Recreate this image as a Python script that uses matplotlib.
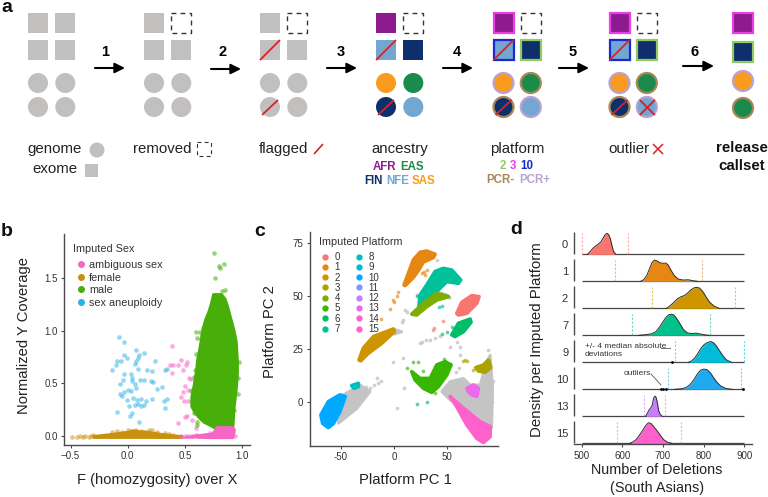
import matplotlib
matplotlib.use("Agg")
import matplotlib.pyplot as plt
from matplotlib.patches import Rectangle, Circle, FancyArrowPatch
from matplotlib.lines import Line2D
from matplotlib.transforms import blended_transform_factory as blend

plt.rcParams['font.family'] = ['Liberation Sans', 'DejaVu Sans']
W, H = 768, 497
GRAY = '#c2c0bf'; PURPLE = '#8d1a8f'; NFE = '#71a7d1'; NAVY = '#0e2f6c'
SAS = '#f99b1e'; EAS = '#1b8b4b'; RED = '#d8222b'
P2 = '#93c963'; P3 = '#ea3fe2'; P10 = '#1b2bc9'; PCRM = '#a98757'; PCRP = '#bba2d2'
TXT = '#222222'; AX = '#4a4a4a'

# ---------- panel b data ----------
SEX_NAMES = ['ambiguous sex', 'female', 'male', 'sex aneuploidy']
SEX_COLORS = ['#f766c5', '#c9900f', '#47ae0a', '#2ab1e8']
aneu_F = [-.08,-.03,-.03,-.01,.07,.14,.10,.09,.07,.06,-.09,-.06,-.14,-.10,.24,-.03,.03,.04,-.04,.11,.14,.20,.22,.04,.06,-.07,-.03,-.07,-.05,0,.03,.07,.26,.30,.17,.21,.09,.34,.33,-.09,.01,.04,.02,.10,.34,.32,.33,-.01,.05,.08,.12,.09,.16,.21,.14,.12,.06]
aneu_Y = [.94,.89,.77,.74,.82,.79,.77,.74,.71,.68,.71,.71,.63,.67,.71,.59,.59,.55,.53,.53,.53,.52,.51,.52,.49,.49,.42,.40,.38,.44,.43,.46,.45,.47,.63,.62,.64,.64,.63,.23,.29,.22,.19,.14,.35,.33,.27,.34,.36,.34,.35,.31,.33,.35,.30,.29,.30]
amb_F = [.39,.47,.52,.37,.40,.44,.51,.39,.48,.54,.50,.48,.47,.53,.49,.56,.53,.50,.44,.52,.56,.60,.47,.50,.53,.56,.60,.63,.66,.69,.72,.94,.55,.58]
amb_Y = [.85,.72,.70,.67,.67,.67,.67,.60,.63,.55,.48,.42,.37,.44,.33,.31,.33,.18,.13,.19,.15,.08,0,0,0,0,.01,0,0,.01,.03,0,.54,.29]
amb_blob_F = [.47,.60,.72,.74,.76,.92,.93,.94,.92,.78,.74,.60]
amb_blob_Y = [-.015,-.015,-.02,-.02,-.02,-.02,0,.06,.09,.09,.03,.012]
fem_band_F = [-.30,-.20,-.10,0,.05,.10,.15,.20,.30,.40,.48,.48,.30,.10,-.10,-.30]
fem_band_Y = [.005,.018,.03,.045,.06,.05,.05,.04,.025,.012,.005,-.018,-.018,-.018,-.018,-.018]
fem_F = [-.49,-.44,-.42,-.39,-.37,-.34,-.32,-.30,-.14,-.09,-.05,0,.03,.07,.12,.19,.21,.26,.33,.36,.40]
fem_Y = [-.01,-.01,0,-.01,0,-.01,0,.01,.04,.05,.04,.06,.05,.06,.05,.06,.06,.04,.03,.02,.01]
male_out_F = [.75,.84,.80,.81,.76,.85,.82,.75,.78,.83,.79,.81,.63,.60,.61,.60,.64,.58,.57,.55,.61,.61,.97,.96,.71,.72,.66,.64,.96,.93,.90,.87,.68,.65,.62,.59,.56,.58]
male_out_Y = [1.73,1.63,1.61,1.59,1.50,1.38,1.37,1.34,1.34,1.30,1.29,1.25,.99,.99,.93,.78,.82,.56,.45,.43,.14,.11,.70,.55,1.05,1.15,1.02,.92,.40,.25,.98,1.15,1.10,.96,.72,.63,.33,.22]
male_F = [.76,.92,.93,.95,.96,.96,.95,.93,.91,.89,.87,.85,.82,.75,.73,.71,.68,.66,.63,.61,.60,.58,.56,.56,.59,.63,.67,.71]
male_Y = [.08,.08,.26,.45,.60,.70,.89,1.0,1.08,1.16,1.24,1.30,1.34,1.34,1.25,1.18,1.10,1.02,.83,.72,.61,.48,.37,.28,.22,.17,.13,.11]

# ---------- panel c data ----------
PLAT_NAMES = [str(i) for i in range(16)]
PLAT_COLORS = ['#F8766D','#E68613','#CD9600','#ABA300','#7CAE00','#39B600','#00BE67','#00C19A',
               '#00BFC4','#00B8E7','#00A9FF','#8494FF','#C77CFF','#ED68ED','#FF61CC','#FF61CC']
CGRAY = '#c4c4c4'
c_gray_clouds = [
 ([45,52.8,65.4,71.7,81.1,87.4,90.6,93,92,90.6,81.1,65.4,52.8],[4.7,9.5,11,7.9,7.9,19,22,6.3,-12.6,-12.6,-10,-3.2,.8]),
 ([-47.8,-32,-22.6,-35,-52.5,-51],[3.2,7.9,4.7,-3.2,-10.3,-4.7]),
 ([-.6,7.2,.3],[34.4,33.1,31.9]),
 ([40,50,53,45],[52,50.5,49,50]),
]
c_gray_x = [24.5,34,38.7,26,52.8,-.6,8.8,-16.4,-22.6,2.5,9.4,10.4,12,8.8,7.2,21.4,40.3,89,62.3,62.3,-19,-26,-12,-15,30,43,56,59,61,58,93,92]
c_gray_y = [27.6,29.2,30,28.4,26,18.9,20.5,11,6.3,-2.8,6.6,43.4,42.6,38.7,37.9,50.5,67.1,24.5,26,22,8,7,10,9,29,31,32,28,16,14,10,0]
c_clusters = {
 1:([9.4,13.5,18.2,24.5,30.8,38.7,37.1,27.7,23,18.2,10.4],[55.2,60.8,67.1,70.7,71.3,69.8,68.2,66.1,62.1,58.8,54.9]),
 7:([46.5,54.4,62.9,60.7,49.7,41.8,34,29.2,23,24.5,30.8,38.7],[63.1,62.3,57.6,56,56.8,52.9,48.9,45.8,42.6,50.5,55.2,61.6]),
 4:([16.7,27.7,40.3,51.3,40.3,30.8,21.4],[41.4,46.6,51.3,49.7,48.1,44.9,41]),
 0:([59.1,63.8,73.3,80.2,78,68.6,60.7],[41.8,47,50.2,49.7,46.6,41.8,41]),
 6:([54.4,60.7,71.7,72.6,65.4,57.5],[31.6,37.1,39.1,37.6,33.1,30.8]),
 2:([-33,-29,-19.5,-.6,.3,-11.6,-24.2,-31.4],[19.7,25.3,30.8,34.4,33.1,27.6,22.9,19.3]),
 3:([77,84.3,89,91.2,85.8,79.5],[16.1,17.4,19.7,16.1,13.9,14.5]),
 5:([16.7,24.5,34,40.3,48.1,53.8,49.7,41.8,35.5,27.7,19.8],[14.2,11,11,17.4,18.9,17.4,12.6,7.1,4.4,6.3,10.3]),
 15:([52.8,63.8,81.1,90.6,90.6,84.3,78,68.6,59.1],[2.4,-2.4,-9.5,-11.8,-16.6,-19.4,-17.4,-11,-2.4]),
 13:([68.6,74.8,79.6,78,73.3,70],[6.3,7.9,6.3,2.4,3.2,4.7]),
 10:([-69,-62,-51,-46,-51,-57,-62,-67.3],[-6.3,0,3.2,2.4,-4.7,-10.3,-12.3,-10.3]),
 8:([-40,-33.6,-33.6,-37.7],[7.6,8.7,7.1,6.3]),
}
c_points = {
 1:([26,29,31.4,28,4,-.6,-4,-12,2.5,0,12],[60.8,60,62.3,61.5,52,48,44,39,50,47,57.6]),
 0:([46,36.5,38],[38.4,34,34.7]),
 6:([45,49.7,54.4,47,22,31],[32,33,35.5,20,-1,0]),
 3:([65,66.5,68.5,74],[19.4,19.6,19.4,15]),
 5:([12,18.2,22.3,27,48,38.7],[16,18.9,18.9,14.7,19.4,4.3]),
 7:([22,42,45],[50,45,45.5]),
}

# ---------- panel d data ----------
RIDGE_NAMES = ['0','1','2','7','9','10','13','15']
RIDGE_COLORS = ['#F8766D','#E68613','#CD9600','#00C08B','#00BCD8','#1EA9F0','#C77CFF','#FF61CC']
RIDGE_X = [
 [514,520,527,533,540,547,553,558,562,566,570,574,578,584],
 [645,653,660,667,673,679,685,692,700,707,713,720,728,738,750,762,772,785],
 [708,716,725,735,745,752,760,768,776,783,790,798,806,815,825,838],
 [640,660,672,682,692,700,708,715,720,726,733,742,750,760,770,782,795,812],
 [762,770,778,786,794,802,810,817,824,830,838,846,855,868],
 [728,745,757,766,775,784,792,800,808,816,824,832,842,855,870],
 [657,661,665,669,673,677,680,683,686,689,693,698],
 [618,626,634,642,650,657,664,670,677,685,693,702,712,722],
]
RIDGE_H = [
 [0,.09,.22,.30,.37,.46,.62,.74,.78,.74,.60,.35,.12,0],
 [0,.07,.22,.48,.70,.79,.76,.69,.67,.68,.60,.40,.21,.08,.05,.06,.03,0],
 [0,.08,.20,.35,.44,.47,.56,.68,.76,.78,.75,.62,.42,.22,.09,0],
 [0,.03,.06,.13,.32,.51,.68,.77,.78,.76,.64,.42,.22,.09,.07,.08,.04,0],
 [0,.05,.16,.34,.54,.67,.74,.77,.73,.63,.45,.27,.10,0],
 [0,.02,.07,.17,.34,.56,.71,.75,.73,.62,.44,.27,.12,.03,0],
 [0,.10,.22,.30,.40,.68,.75,.70,.50,.22,.07,0],
 [0,.05,.14,.30,.48,.65,.76,.74,.62,.47,.30,.13,.03,0],
]
MAD_LO = [500,582,674,624,730,712,652,588]
MAD_HI = [614,797,877,815,898,891,706,743]
OUTLIERS = {'9':[722],'10':[696,699,708,896]}

# ---------- schematic ----------
fig = plt.figure(figsize=(W/100, H/100), dpi=100)
def axes_px(l, t, r, b):
    return fig.add_axes([l/W, 1-b/H, (r-l)/W, (b-t)/H])
ov = fig.add_axes([0,0,1,1], zorder=10)
ov.set_xlim(0,W); ov.set_ylim(H,0); ov.axis('off'); ov.patch.set_alpha(0)

def square(x, y, fc, ec=None, s=20, lw=1.6):
    ov.add_patch(Rectangle((x,y), s, s, fc=fc, ec=ec if ec else fc, lw=lw if ec else 0))
def dashed(x, y, s=20, lw=1.0):
    ov.add_patch(Rectangle((x,y), s, s, fc='none', ec='#333333', lw=lw, ls=(0,(3.5,3))))
def circle(x, y, fc, ec=None, r=10, lw=1.6):
    ov.add_patch(Circle((x,y), r, fc=fc, ec=ec if ec else fc, lw=lw if ec else 0))
def slash(x0, y0, x1, y1, c=RED, lw=1.3):
    ov.plot([x0,x1],[y0,y1],color=c,lw=lw,solid_capstyle='butt')

SQ_Y = [13, 40]
CI_Y = [83, 107]
STAGE_X = [28, 144, 260, 376, 493.5, 609.5]
DX = 27.3
for i, x0 in enumerate(STAGE_X):
    xs = [x0, x0+DX]
    sq = {0:[GRAY,GRAY,GRAY,GRAY],1:[GRAY,None,GRAY,GRAY],2:[GRAY,None,GRAY,GRAY]}.get(i,[PURPLE,None,NFE,NAVY])
    ci = [GRAY]*4 if i < 3 else [SAS,EAS,NAVY,NFE]
    sqe = [None]*4 if i < 4 else [P3,None,P10,P2]
    cie = [None]*4 if i < 4 else [PCRP,PCRM,PCRM,PCRP]
    for k,(yy,xx) in enumerate([(SQ_Y[0],xs[0]),(SQ_Y[0],xs[1]),(SQ_Y[1],xs[0]),(SQ_Y[1],xs[1])]):
        if sq[k] is None:
            dashed(xx, yy)
        else:
            square(xx, yy, sq[k], sqe[k])
    for k,(yy,xx) in enumerate([(CI_Y[0],xs[0]),(CI_Y[0],xs[1]),(CI_Y[1],xs[0]),(CI_Y[1],xs[1])]):
        circle(xx+10, yy, ci[k], cie[k])
    if i >= 2:
        slash(x0, 60, x0+20, 40)
        slash(x0+2, 115, x0+18, 100)
    if i == 5:
        slash(x0+DX+3, 100, x0+DX+18, 115, lw=1.4)
        slash(x0+DX+3, 115, x0+DX+18, 100, lw=1.4)
# release column
square(733, 13, PURPLE, P3, s=20)
square(733, 42, NAVY, P2, s=20)
circle(743, 81, SAS, PCRP)
circle(743, 108, EAS, PCRM)

ARROW_X = [(95,125,68),(211,241,69),(327,357,68),(443,473,68),(559,589,68),(683,714,66)]
STEP_X = [105,223,341,457,573,695]
for n,((a,b,y),lx) in enumerate(zip(ARROW_X,STEP_X)):
    ov.add_patch(FancyArrowPatch((a,y),(b,y),arrowstyle='-|>',mutation_scale=15,lw=1.5,color='black',shrinkA=0,shrinkB=0))
    ov.text(lx, 52, str(n+1), fontsize=10.5, fontweight='bold', ha='center', va='center', color='black')

def t(x, y, s, size=10.8, c=TXT, ha='left', w='normal'):
    ov.text(x, y, s, fontsize=size, color=c, ha=ha, va='center', fontweight=w)
t(27,149,'genome'); circle(97,150,GRAY,r=7.5)
t(32,169,'exome'); square(85,164,GRAY,s=13)
t(132.5,149,'removed'); dashed(197,142,s=14,lw=.8)
t(259,149,'flagged'); slash(314,154,323,144,lw=1.2)
t(371,149,'ancestry')
t(373,167,'AFR',8.3,PURPLE,w='bold'); t(400,167,'EAS',8.3,EAS,w='bold')
t(364,181,'FIN',8.3,NAVY,w='bold'); t(386,181,'NFE',8.3,NFE,w='bold'); t(412,181,'SAS',8.3,SAS,w='bold')
t(490.5,149,'platform')
t(500,166,'2',8.3,P2,w='bold'); t(510,166,'3',8.3,P3,w='bold'); t(520,166,'10',8.3,P10,w='bold')
t(486,180,'PCR-',8.3,PCRM,w='bold'); t(519,180,'PCR+',8.3,PCRP,w='bold')
t(608,149,'outlier')
slash(653,144,663,154,lw=1.1); slash(653,154,663,144,lw=1.1)
t(742,148,'release',10.8,'#111111','center','bold'); t(742,166,'callset',10.8,'#111111','center','bold')
for (x,y,s) in [(1,7.5,'a'),(1,231,'b'),(254,231,'c'),(510,229,'d')]:
    t(x,y,s,14,'#111111',w='bold')

def style(ax):
    for s in ['top','right']:
        ax.spines[s].set_visible(False)
    for s in ['left','bottom']:
        ax.spines[s].set_color(AX); ax.spines[s].set_linewidth(1.0)
    ax.tick_params(labelsize=7, colors=AX, labelcolor='#333333', length=2.5, width=.8, pad=2)
    ax.patch.set_alpha(0)

# ---------- panel b ----------
ax = axes_px(64,234,250,445)
style(ax)
ax.set_xlim(-.557,1.069); ax.set_ylim(-.082,1.912)
ax.set_xticks([-.5,0,.5,1]); ax.set_xticklabels(['−0.5','0.0','0.5','1.0'])
ax.set_yticks([0,.5,1,1.5]); ax.set_yticklabels(['0.0','0.5','1.0','1.5'])
ax.fill(fem_band_F, fem_band_Y, color=SEX_COLORS[1], lw=1, joinstyle='round')
ax.fill(amb_blob_F, amb_blob_Y, color=SEX_COLORS[0], lw=1, zorder=3, joinstyle='round')
ax.fill(male_F, male_Y, color=SEX_COLORS[2], lw=2, zorder=2, joinstyle='round')
ax.scatter(fem_F, fem_Y, s=11, color=SEX_COLORS[1], alpha=.5, lw=0)
ax.scatter(amb_F, amb_Y, s=11, color=SEX_COLORS[0], alpha=.55, lw=0)
ax.scatter(male_out_F, male_out_Y, s=11, color=SEX_COLORS[2], alpha=.55, lw=0)
ax.scatter(aneu_F, aneu_Y, s=11, color=SEX_COLORS[3], alpha=.5, lw=0)
hb = [Line2D([],[],ls='',marker='o',ms=4,color=c) for c in SEX_COLORS]
lg = ax.legend(hb, SEX_NAMES, title='Imputed Sex', title_fontsize=7.8, fontsize=7.8, frameon=False,
          loc='upper left', bbox_to_anchor=(73,244), bbox_transform=ov.transData, borderpad=0, borderaxespad=0,
          labelspacing=.25, handletextpad=0, handlelength=1.5, labelcolor='#333333')
lg._legend_box.align='left'; lg._legend_box.sep=4.2; lg.get_title().set_color('#333333')
ax.set_xlabel('F (homozygosity) over X', fontsize=10.6, color=TXT)
ax.xaxis.set_label_coords(157,473,transform=ov.transData)
ax.set_ylabel('Normalized Y Coverage', fontsize=10.6, color=TXT)
ax.yaxis.set_label_coords(31,335,transform=ov.transData)

# ---------- panel c ----------
ax = axes_px(309.7,232,498,446)
style(ax)
ax.set_xlim(-79.5,98); ax.set_ylim(-21,80.3)
ax.set_xticks([-50,0,50]); ax.set_xticklabels(['-50','0','50'])
ax.set_yticks([0,25,50,75])
for xs,ys in c_gray_clouds:
    ax.fill(xs,ys,color=CGRAY,lw=2,zorder=1,joinstyle='round')
ax.scatter(c_gray_x,c_gray_y,s=7,color=CGRAY,alpha=.8,lw=0,zorder=1)
for k,(xs,ys) in c_clusters.items():
    ax.fill(xs,ys,color=PLAT_COLORS[k],lw=2.6,zorder=2+(k in (4,13)),joinstyle='round')
for k,(xs,ys) in c_points.items():
    ax.scatter(xs,ys,s=7,color=PLAT_COLORS[k],alpha=.65,lw=0,zorder=2)
hc = [Line2D([],[],ls='',marker='o',ms=3.5,color=c) for c in PLAT_COLORS]
lg = ax.legend(hc, PLAT_NAMES, title='Imputed Platform', title_fontsize=7.8, fontsize=7, ncol=2, frameon=False,
          loc='upper left', bbox_to_anchor=(319,237), bbox_transform=ov.transData, borderpad=0, borderaxespad=0,
          labelspacing=.03, handletextpad=.3, handlelength=1.3, columnspacing=1.3, labelcolor='#333333')
lg._legend_box.align='left'; lg._legend_box.sep=3.6; lg.get_title().set_color('#333333')
ax.set_xlabel('Platform PC 1', fontsize=10.7, color=TXT)
ax.xaxis.set_label_coords(405,473,transform=ov.transData)
ax.set_ylabel('Platform PC 2', fontsize=10.7, color=TXT)
ax.yaxis.set_label_coords(277,332,transform=ov.transData)

# ---------- panel d ----------
ax = axes_px(573.7,232,751.7,444.3)
style(ax)
ax.set_xlim(480.3,918); ax.set_ylim(-1/27,7.83)
ax.spines['left'].set_visible(False)
ax.set_xticks([500,600,700,800,900])
n = len(RIDGE_NAMES)
base = [n-1-i for i in range(n)]
ax.set_yticks([b+.37 for b in base]); ax.set_yticklabels(RIDGE_NAMES, fontsize=8)
ax.tick_params(axis='y', length=0, pad=4)
tr = blend(ax.transAxes, ax.transData)
for i,b in enumerate(base):
    ax.plot([0,0],[b,b+.82],color=AX,lw=1.0,transform=tr,clip_on=False,solid_capstyle='butt')
    ax.hlines(b,500,899,color='#444444',lw=.9,zorder=1+i)
    ax.vlines([MAD_LO[i],MAD_HI[i]],b,b+.8,color=RIDGE_COLORS[i],lw=.8,ls=(0,(2,1.5)),alpha=.6,zorder=1+i)
    ax.fill_between(RIDGE_X[i],[b]*len(RIDGE_X[i]),[b+h for h in RIDGE_H[i]],color=RIDGE_COLORS[i],lw=0,zorder=2+i)
    ax.plot(RIDGE_X[i],[b+h for h in RIDGE_H[i]],color='#2b2b2b',lw=.7,zorder=2+i)
    if RIDGE_NAMES[i] in OUTLIERS:
        ox = OUTLIERS[RIDGE_NAMES[i]]
        ax.scatter(ox,[b]*len(ox),s=4,color='black',zorder=20,lw=0)
ov.text(585,347,'+/- 4 median absolute',fontsize=6,color='#333333',va='center')
ov.text(585,354.5,'deviations',fontsize=6,color='#333333',va='center')
ov.plot([660.5,670],[347.5,347.5],color='#777777',lw=.7)
ov.text(624,373.5,'outliers',fontsize=6,color='#333333',va='center')
ov.plot([651,661],[374,385],color='#555555',lw=.6)
ax.set_xlabel('Number of Deletions\n(South Asians)', fontsize=10.4, color=TXT, linespacing=1.3)
ax.xaxis.set_label_coords(657,479,transform=ov.transData)
ax.xaxis.label.set_va('center')
ax.set_ylabel('Density per Imputed Platform', fontsize=10.8, color=TXT)
ax.yaxis.set_label_coords(544,340,transform=ov.transData)

fig.savefig('out.png', dpi=100)
